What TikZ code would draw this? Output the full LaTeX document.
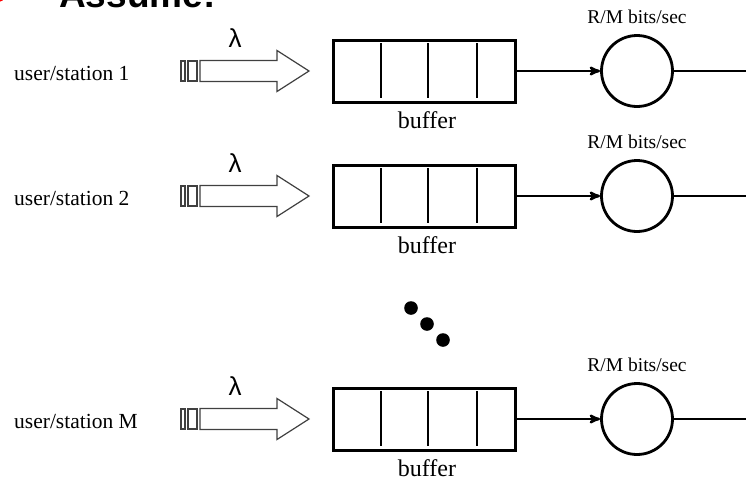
\documentclass[tikz,border=0pt]{standalone}
\usepackage{fontspec}
\setmainfont{Liberation Serif}
\setsansfont{Liberation Sans}
\usetikzlibrary{calc}
\usetikzlibrary{arrows}

\tikzset{
  station/.style={anchor=west, inner sep=0, font=\fontsize{21.5}{24}\selectfont},
  rate/.style={inner sep=0, font=\fontsize{19.5}{22}\selectfont},
  buflabel/.style={inner sep=0, font=\fontsize{24}{27}\selectfont},
  lam/.style={inner sep=0, font=\fontsize{26}{28}\sffamily},
  queue/.style={draw, line width=3pt, minimum width=182pt, minimum height=62pt, inner sep=0},
  server/.style={draw, circle, line width=2.8pt, minimum size=71pt, inner sep=0},
  link/.style={line width=2.4pt},
  feed/.style={draw=black!75, line width=1.2pt, fill=white},
}

\begin{document}
\begin{tikzpicture}[x=1pt, y=-1pt]
\useasboundingbox (0,0) rectangle (746,480);
% title, cut by the top edge
\fill[red] (-1,-3) circle (5);
\node[anchor=base west, inner sep=0, font=\fontsize{37}{40}\sffamily\bfseries] (title) at (59,7) {Assume:};
\foreach \y/\lab/\nm in {71/1/a, 196/2/b, 419/M/c} {
 \node[station] (st\nm) at (14,\y+2) {user/station \lab};
 \draw[feed] (181,\y-10) rectangle (185,\y+10);
 \draw[feed] (188,\y-10) rectangle (197,\y+10);
 \draw[feed] (200,\y-10.5) -- (277,\y-10.5) -- (277,\y-20.5) -- (309,\y) -- (277,\y+20.5) -- (277,\y+10.5) -- (200,\y+10.5) -- cycle;
 \node[lam] (lam\nm) at (235,\y-33) {λ};
 \node[queue] (buf\nm) at (424.5,\y) {};
 \foreach \x in {381, 428, 477}
  \draw[line width=2.4pt] (\x,\y-28) -- (\x,\y+27);
 \node[buflabel] (bl\nm) at (427,\y+49) {buffer};
 \node[server] (srv\nm) at (637,\y) {};
 \node[rate] (rt\nm) at (637,\y-54) {R/M bits/sec};
 \coordinate (out\nm) at (746,\y);
 \draw[link, ->, >=stealth'] (buf\nm.east) -- (srv\nm.west);
 \draw[link] (srv\nm.east) -- (out\nm);
}
% dots between station 2 and station M
\foreach \p in {(411,308), (427,324), (443,340)}
 \fill \p circle (6.8);
\end{tikzpicture}
\end{document}
